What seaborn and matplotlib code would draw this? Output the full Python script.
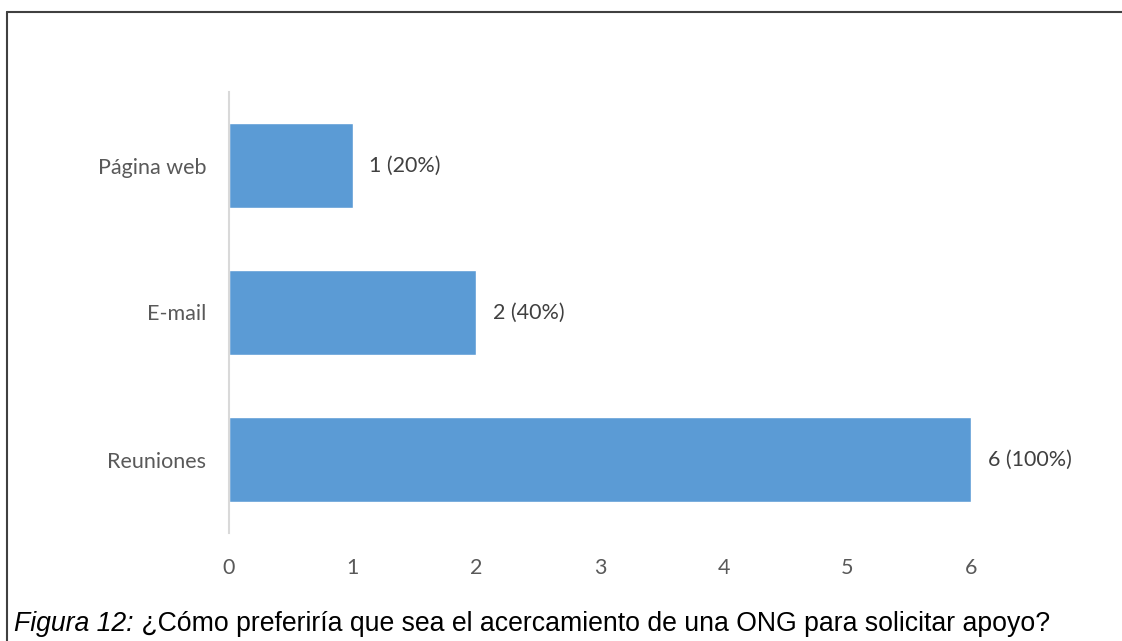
import matplotlib
matplotlib.use("Agg")
import matplotlib.pyplot as plt
import seaborn as sns
import pandas as pd
from matplotlib.lines import Line2D

categories = ["Página web", "E-mail", "Reuniones"]
values = [1, 2, 6]
labels = ["1 (20%)", "2 (40%)", "6 (100%)"]
xticks = [0, 1, 2, 3, 4, 5, 6]
caption_italic = "Figura 12:"
caption_rest = " ¿Cómo preferiría que sea el acercamiento de una ONG para solicitar apoyo?"

sns.set_theme(style="white")
plt.rcParams['font.family'] = ['Lato', 'DejaVu Sans']

df = pd.DataFrame({"cat": categories, "val": values})

W, H = 1122, 641
fig = plt.figure(figsize=(W / 100, H / 100), dpi=100)
ax = fig.add_axes([229 / W, 1 - 533 / H, (971 - 229) / W, (533 - 92) / H])

sns.barplot(data=df, y="cat", x="val", orient="h", color="#5B9BD5",
            saturation=1, width=0.575, ax=ax)

for i, (v, t) in enumerate(zip(values, labels)):
    ax.text(v + 0.135, i, t, va="center", ha="left", fontsize=15.5, color="#404040")

ax.set_xlim(0, 6)
ax.set_ylim(2.5, -0.5)
ax.set_xticks(xticks)
ax.set_xticklabels([str(x) for x in xticks])
ax.set_xlabel("")
ax.set_ylabel("")
ax.tick_params(axis="both", length=0, labelsize=15.5, labelcolor="#595959")
ax.tick_params(axis="x", pad=18)
ax.tick_params(axis="y", pad=16.5)
for s in ["top", "right", "bottom"]:
    ax.spines[s].set_visible(False)
ax.spines["left"].set_color("#D9D9D9")
ax.spines["left"].set_linewidth(1.5)

# figure border (top and left)
fig.add_artist(Line2D([7 / W, 1], [1 - 12 / H, 1 - 12 / H], transform=fig.transFigure,
                      color="#404040", lw=1.5))
fig.add_artist(Line2D([7 / W, 7 / W], [0, 1 - 12 / H], transform=fig.transFigure,
                      color="#404040", lw=1.5))

# caption
t1 = fig.text(14 / W, 1 - 631 / H, caption_italic, fontstyle="italic",
              family=["Liberation Sans"], fontsize=19.2, color="black", va="baseline")
fig.canvas.draw()
bb = t1.get_window_extent(renderer=fig.canvas.get_renderer())
fig.text(bb.x1 / W, 1 - 631 / H, caption_rest, family=["Liberation Sans"],
         fontsize=19.2, color="black", va="baseline")

fig.savefig("out.png", dpi=100)
